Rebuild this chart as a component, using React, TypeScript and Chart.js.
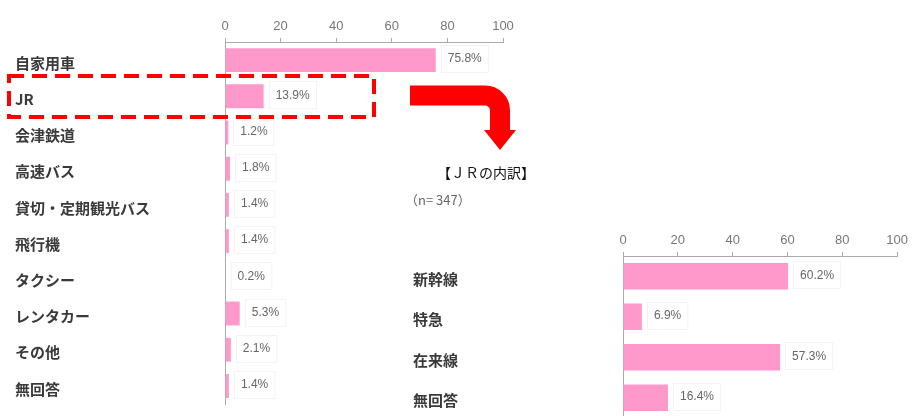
import React, { useEffect, useRef } from "react";
import { Chart, registerables } from "chart.js";

Chart.register(...registerables);

const leftCategories = ["自家用車", "JR", "会津鉄道", "高速バス", "貸切・定期観光バス", "飛行機", "タクシー", "レンタカー", "その他", "無回答"];
const leftValues = [75.8, 13.9, 1.2, 1.8, 1.4, 1.4, 0.2, 5.3, 2.1, 1.4];
const rightCategories = ["新幹線", "特急", "在来線", "無回答"];
const rightValues = [60.2, 6.9, 57.3, 16.4];
const axisMin = 0;
const axisMax = 100;
const axisStep = 20;
const subTitle = "【ＪＲの内訳】";
const sampleNote = "（n= 347）";

const BAR_COLOR = "#ff99cc";
const JP_FONT = '"Noto Sans CJK JP", "Noto Sans", sans-serif';
const NUM_FONT = '"Liberation Sans", Arial, sans-serif';

const valueLabelPlugin = {
  id: "valueLabels",
  afterDatasetsDraw(chart: any) {
    const ctx = chart.ctx;
    const meta = chart.getDatasetMeta(0);
    const data = chart.data.datasets[0].data as number[];
    ctx.save();
    ctx.font = `12px ${NUM_FONT}`;
    meta.data.forEach((bar: any, i: number) => {
      const text = data[i].toFixed(1) + "%";
      const w = ctx.measureText(text).width;
      const h = 28;
      const bx = bar.x + 5;
      const by = bar.y - h / 2 - 1;
      ctx.fillStyle = "#ffffff";
      ctx.fillRect(bx, by, w + 14, h);
      ctx.strokeStyle = "#f3f3f3";
      ctx.lineWidth = 1;
      ctx.strokeRect(Math.round(bx) + 0.5, Math.round(by) + 0.5, w + 13, h - 1);
      ctx.fillStyle = "#666666";
      ctx.textBaseline = "middle";
      ctx.textAlign = "left";
      ctx.fillText(text, bx + 7, bar.y - 1);
    });
    ctx.restore();
  },
};

function makeConfig(labels: string[], values: number[], pad: any, xHeight: number, yWidth: number): any {
  return {
    type: "bar",
    data: {
      labels,
      datasets: [
        {
          data: values,
          backgroundColor: BAR_COLOR,
          borderWidth: 0,
          categoryPercentage: 1,
          barPercentage: 0.66,
        },
      ],
    },
    options: {
      indexAxis: "y",
      animation: false,
      responsive: false,
      maintainAspectRatio: false,
      events: [],
      layout: { padding: pad },
      plugins: { legend: { display: false }, tooltip: { enabled: false }, title: { display: false } },
      scales: {
        x: {
          type: "linear",
          position: "top",
          min: axisMin,
          max: axisMax,
          ticks: {
            stepSize: axisStep,
            padding: 4,
            color: "#777777",
            font: { family: NUM_FONT, size: 13 },
          },
          grid: { drawOnChartArea: false, drawTicks: true, tickLength: 4, color: "#aaaaaa" },
          border: { display: true, color: "#aaaaaa", width: 1 },
          afterFit: (s: any) => {
            s.height = xHeight;
          },
        },
        y: {
          type: "category",
          position: "left",
          ticks: {
            crossAlign: "far",
            autoSkip: false,
            labelOffset: 3,
            color: "#3a3a3a",
            font: { family: JP_FONT, size: 15, weight: "bold" },
          },
          grid: { display: false, drawTicks: false },
          border: { display: true, color: "#aaaaaa", width: 1 },
          afterFit: (s: any) => {
            s.width = yWidth;
          },
        },
      },
    },
    plugins: [valueLabelPlugin],
  };
}

export default function App() {
  const leftRef = useRef<HTMLCanvasElement>(null);
  const rightRef = useRef<HTMLCanvasElement>(null);

  useEffect(() => {
    const left = new Chart(
      leftRef.current as HTMLCanvasElement,
      makeConfig(leftCategories, leftValues, { left: 15, right: 57, top: 0, bottom: 8 }, 42, 210)
    );
    const right = new Chart(
      rightRef.current as HTMLCanvasElement,
      makeConfig(rightCategories, rightValues, { left: 13, right: 14, top: 0, bottom: 8 }, 41, 210)
    );
    return () => {
      left.destroy();
      right.destroy();
    };
  }, []);

  return (
    <div
      style={{
        position: "fixed",
        left: 0,
        top: 0,
        width: 912,
        height: 416,
        overflow: "hidden",
        background: "#ffffff",
      }}
    >
      <canvas
        ref={leftRef}
        width={560}
        height={416}
        style={{ position: "absolute", left: 0, top: 0, width: 560, height: 416 }}
      />
      <canvas
        ref={rightRef}
        width={512}
        height={215}
        style={{ position: "absolute", left: 400, top: 215, width: 512, height: 215 }}
      />
      <div
        style={{
          position: "absolute",
          left: 437,
          top: 162,
          height: 20,
          lineHeight: "20px",
          fontFamily: JP_FONT,
          fontSize: 14,
          color: "#111111",
          whiteSpace: "nowrap",
        }}
      >
        {subTitle}
      </div>
      <div
        style={{
          position: "absolute",
          left: 405,
          top: 190,
          height: 20,
          lineHeight: "20px",
          fontFamily: JP_FONT,
          fontSize: 13,
          color: "#666666",
          whiteSpace: "nowrap",
        }}
      >
        {sampleNote}
      </div>
      <svg
        width={912}
        height={416}
        style={{ position: "absolute", left: 0, top: 0, pointerEvents: "none" }}
      >
        <rect
          x={9}
          y={76}
          width={365}
          height={41}
          fill="none"
          stroke="#ff0000"
          strokeWidth={4}
          strokeDasharray="15 8"
        />
        <path
          d="M 410 95.5 H 485 A 15 15 0 0 1 500 110.5 V 131"
          fill="none"
          stroke="#ff0000"
          strokeWidth={20}
          strokeLinejoin="round"
        />
        <polygon points="484,130 516,130 500,150" fill="#ff0000" />
      </svg>
    </div>
  );
}
